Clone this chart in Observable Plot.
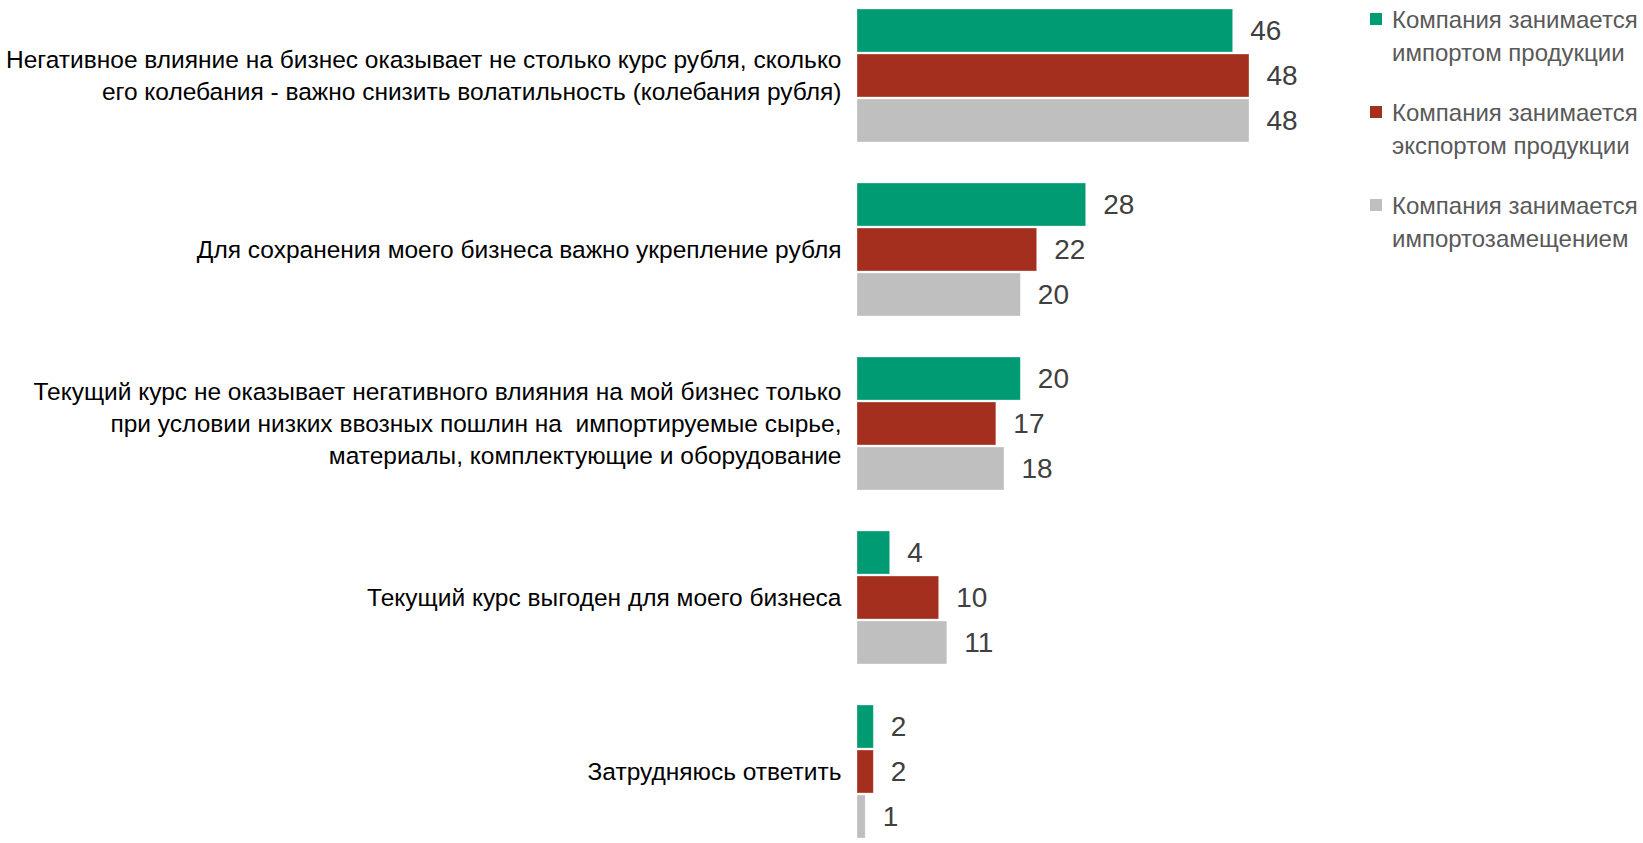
<!DOCTYPE html>
<html>
<head>
<meta charset="utf-8">
<script src="https://cdn.jsdelivr.net/npm/d3@7"></script>
<script src="https://cdn.jsdelivr.net/npm/@observablehq/plot@0.6"></script>
<style>
  html, body { margin: 0; padding: 0; background: #fff; }
  #wrap { position: relative; width: 1643px; height: 843px; font-family: "Liberation Sans", Arial, sans-serif; }
  #legend { position: absolute; left: 1370px; top: 0; }
  .item { position: absolute; left: 0; width: 273px; }
  .sw { position: absolute; left: 0; width: 12px; height: 12px; }
  .lt { position: absolute; left: 22px; font-size: 24px; line-height: 33px; color: #595959; white-space: nowrap; }
</style>
</head>
<body>
<div id="wrap"><div id="chart"></div><div id="legend"></div></div>
<script>
const categories = [
  "Негативное влияние на бизнес оказывает не столько курс рубля, сколько\nего колебания - важно снизить волатильность (колебания рубля)",
  "Для сохранения моего бизнеса важно укрепление рубля",
  "Текущий курс не оказывает негативного влияния на мой бизнес только\nпри условии низких ввозных пошлин на  импортируемые сырье,\nматериалы, комплектующие и оборудование",
  "Текущий курс выгоден для моего бизнеса",
  "Затрудняюсь ответить"
];
const seriesNames = [
  "Компания занимается импортом продукции",
  "Компания занимается экспортом продукции",
  "Компания занимается импортозамещением"
];
const legendLines = [
  ["Компания занимается", "импортом продукции"],
  ["Компания занимается", "экспортом продукции"],
  ["Компания занимается", "импортозамещением"]
];
const importValues = [46, 28, 20, 4, 2];
const exportValues = [48, 22, 17, 10, 2];
const substitutionValues = [48, 20, 18, 11, 1];
const seriesColors = ["#009b72", "#a52f1e", "#bfbfbf"];

const seriesValues = [importValues, exportValues, substitutionValues];
const data = [];
categories.forEach((c, i) => {
  seriesNames.forEach((s, j) => {
    data.push({category: c, series: s, value: seriesValues[j][i]});
  });
});

const chart = Plot.plot({
  width: 1643,
  height: 843,
  marginLeft: 857,
  marginRight: 394,
  marginTop: 8,
  marginBottom: 4,
  style: {fontFamily: "'Liberation Sans', Arial, sans-serif", background: "#fff"},
  x: {domain: [0, 48], axis: null},
  fy: {domain: categories, paddingInner: 0.238, paddingOuter: 0, label: null},
  y: {domain: seriesNames, paddingInner: 0.045, paddingOuter: 0, axis: null},
  color: {domain: seriesNames, range: seriesColors},
  marks: [
    Plot.barX(data, {x: "value", y: "series", fy: "category", fill: "series", stroke: "#fff", strokeOpacity: 0.4, strokeWidth: 0.8}),
    Plot.text(data, {x: "value", y: "series", fy: "category", text: d => String(d.value), textAnchor: "start", dx: 17, fontSize: 28, fill: "#404040"}),
    Plot.axisFy({anchor: "left", tickSize: 0, tickPadding: 16, fontSize: 24.5, lineHeight: 1.31, dy: -2, fill: "#000", label: null})
  ]
});
document.getElementById("chart").appendChild(chart);

const legend = document.getElementById("legend");
legendLines.forEach((lines, i) => {
  const item = document.createElement("div");
  item.className = "item";
  item.style.top = (i * 93) + "px";
  const sw = document.createElement("div");
  sw.className = "sw";
  sw.style.top = "13px";
  sw.style.background = seriesColors[i];
  const t = document.createElement("div");
  t.className = "lt";
  t.style.top = "3px";
  t.innerHTML = lines.join("<br>");
  item.appendChild(sw);
  item.appendChild(t);
  legend.appendChild(item);
});
</script>
</body>
</html>
